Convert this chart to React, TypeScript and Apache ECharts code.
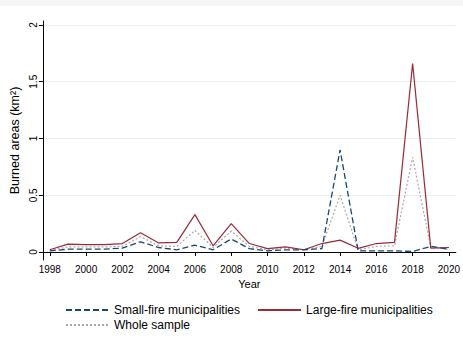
import React, { useEffect, useRef } from "react";
import * as echarts from "echarts";

const years = [1998, 1999, 2000, 2001, 2002, 2003, 2004, 2005, 2006, 2007, 2008, 2009, 2010, 2011, 2012, 2013, 2014, 2015, 2016, 2017, 2018, 2019, 2020];
const smallFire = [0.01, 0.025, 0.025, 0.025, 0.035, 0.09, 0.04, 0.02, 0.06, 0.02, 0.115, 0.03, 0.01, 0.02, 0.02, 0.03, 0.9, 0.01, 0.01, 0.01, 0.005, 0.05, 0.025];
const largeFire = [0.02, 0.07, 0.065, 0.065, 0.075, 0.17, 0.08, 0.085, 0.33, 0.055, 0.25, 0.075, 0.03, 0.045, 0.02, 0.075, 0.105, 0.033, 0.075, 0.085, 1.66, 0.035, 0.04];
const wholeSample = [0.015, 0.045, 0.045, 0.045, 0.05, 0.135, 0.055, 0.05, 0.19, 0.04, 0.185, 0.05, 0.02, 0.035, 0.02, 0.05, 0.5, 0.02, 0.05, 0.055, 0.835, 0.04, 0.025];
const yTicks = [0, 0.5, 1, 1.5, 2];
const xTicks = [1998, 2000, 2002, 2004, 2006, 2008, 2010, 2012, 2014, 2016, 2018, 2020];

const FONT = "Liberation Sans, Arial, sans-serif";

export default function App() {
  const ref = useRef<HTMLDivElement>(null);
  useEffect(() => {
    if (!ref.current) return;
    const chart = echarts.init(ref.current, null, { renderer: "svg" });
    const pair = (arr: number[]) => years.map((y, i) => [y, arr[i]]);
    const legendBase = {
      left: 60,
      itemWidth: 43,
      itemHeight: 14,
      itemGap: 17,
      itemStyle: { opacity: 0 },
      textStyle: { fontSize: 12, color: "#000", fontFamily: FONT },
    };
    chart.setOption({
      animation: false,
      backgroundColor: "#ffffff",
      textStyle: { fontFamily: FONT },
      graphic: [
        { type: "rect", shape: { x: 0, y: 0, width: 463, height: 6 }, style: { fill: "#f6f6f6" }, silent: true },
      ],
      grid: { left: 40, right: 6, top: 21, bottom: 88 },
      xAxis: {
        type: "value",
        min: 1997.62,
        max: 2020.38,
        name: "Year",
        nameLocation: "middle",
        nameGap: 17,
        nameTextStyle: { fontSize: 11, color: "#000", fontFamily: FONT },
        axisLine: { show: true, lineStyle: { color: "#000", width: 1 } },
        axisTick: { show: true, length: 4, customValues: xTicks, lineStyle: { color: "#000" } },
        axisLabel: { customValues: xTicks, fontSize: 10, color: "#000", margin: 4, formatter: (v: number) => String(v) },
        splitLine: { show: false },
      },
      yAxis: {
        type: "value",
        min: -0.07,
        max: 2.035,
        name: "Burned areas (km²)",
        nameLocation: "middle",
        nameGap: 18,
        nameTextStyle: { fontSize: 12.5, color: "#000", fontFamily: FONT },
        axisLine: { show: true, lineStyle: { color: "#000", width: 1 } },
        axisTick: { show: true, length: 4, customValues: yTicks, lineStyle: { color: "#000" } },
        axisLabel: { customValues: yTicks, fontSize: 10, color: "#000", margin: 4, rotate: 90, formatter: (v: number) => String(v) },
        splitLine: { show: true, lineStyle: { color: "#e8eff1", width: 1 } },
      },
      legend: [
        { ...legendBase, top: 299, data: ["Small-fire municipalities", "Large-fire municipalities"] },
        { ...legendBase, top: 314, data: ["Whole sample"] },
      ],
      series: [
        {
          name: "Small-fire municipalities",
          type: "line",
          symbol: "none",
          data: pair(smallFire),
          lineStyle: { color: "#1a476f", width: 1.3, type: [6, 3] },
          itemStyle: { color: "#1a476f" },
          z: 3,
        },
        {
          name: "Large-fire municipalities",
          type: "line",
          symbol: "none",
          data: pair(largeFire),
          lineStyle: { color: "#9a2a38", width: 1.2, type: "solid" },
          itemStyle: { color: "#9a2a38" },
          z: 2,
        },
        {
          name: "Whole sample",
          type: "line",
          symbol: "none",
          data: pair(wholeSample),
          lineStyle: { color: "#a8a8a8", width: 1.2, type: [2, 2] },
          itemStyle: { color: "#a8a8a8" },
          z: 1,
        },
      ],
    });
    return () => chart.dispose();
  }, []);
  return (
    <div
      ref={ref}
      style={{ position: "fixed", left: 0, top: 0, width: 463, height: 348 }}
    />
  );
}
